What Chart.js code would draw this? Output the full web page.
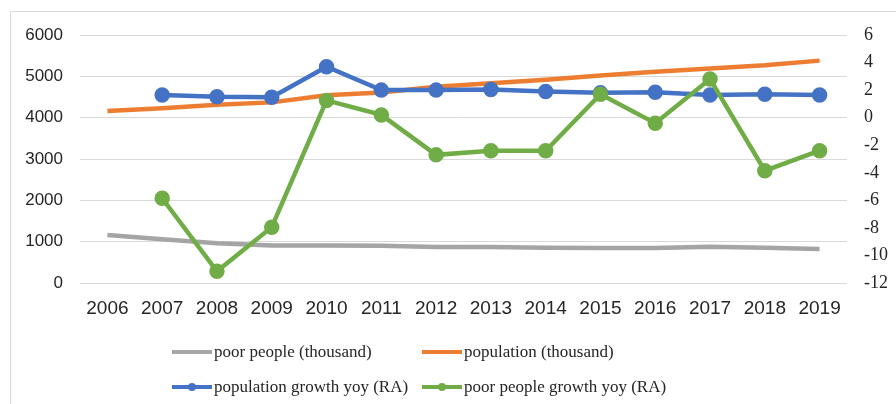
<!DOCTYPE html>
<html>
<head>
<meta charset="utf-8">
<script src="https://cdn.jsdelivr.net/npm/chart.js@4.4.1/dist/chart.umd.min.js"></script>
<style>
  html, body { margin: 0; padding: 0; background: #fff; }
  #wrap { position: relative; width: 896px; height: 404px; overflow: hidden; }
  #frame { position: absolute; left: 10px; top: 11px; width: 900px; height: 400px;
           border-left: 1px solid #d9d9d9; border-top: 1px solid #d9d9d9; }
  canvas { position: absolute; left: 0; top: 0; }
  .item { position: absolute; height: 24px; font-family: "Liberation Serif", serif;
          font-size: 17px; color: #262626; line-height: 24px; white-space: nowrap; }
  .sw { display: inline-block; position: relative; width: 40px; height: 24px;
        vertical-align: top; margin-right: 2px; }
  .sw i { position: absolute; left: 0; right: 0; top: 10px; height: 4px; }
  .sw b { position: absolute; left: 16px; top: 8px; width: 8px; height: 8px; border-radius: 50%; }
</style>
</head>
<body>
<div id="wrap">
  <div id="frame"></div>
  <canvas id="c" width="896" height="404"></canvas>
  <div class="item" style="left:172px; top:340px;">
    <span class="sw"><i style="background:#a5a5a5"></i></span>poor people (thousand)</div>
  <div class="item" style="left:422px; top:340px;">
    <span class="sw"><i style="background:#ed7d31"></i></span>population (thousand)</div>
  <div class="item" style="left:172px; top:375px;">
    <span class="sw"><i style="background:#4472c4"></i><b style="background:#4472c4"></b></span>population growth yoy (RA)</div>
  <div class="item" style="left:422px; top:375px;">
    <span class="sw"><i style="background:#70ad47"></i><b style="background:#70ad47"></b></span>poor people growth yoy (RA)</div>
</div>
<script>
// data
const years = ['2006', '2007', '2008', '2009', '2010', '2011', '2012',
               '2013', '2014', '2015', '2016', '2017', '2018', '2019'];
const poorPeople = [1160, 1060, 960, 910, 910, 900, 870, 870, 850, 845, 845, 880, 855, 825];
const population = [4160, 4230, 4310, 4370, 4540, 4610, 4750, 4830, 4920, 5020, 5110, 5190, 5270, 5380];
const popGrowth = [null, 1.65, 1.52, 1.48, 3.7, 2.0, 2.0, 2.05, 1.9, 1.8, 1.85, 1.65, 1.7, 1.65];
const poorGrowth = [null, -5.85, -11.15, -7.95, 1.25, 0.2, -2.7, -2.4, -2.4, 1.7, -0.4, 2.8, -3.85, -2.4];

const ctx = document.getElementById('c').getContext('2d');
new Chart(ctx, {
    type: 'line',
    data: {
        labels: years,
        datasets: [
            { label: 'poor people (thousand)', data: poorPeople, yAxisID: 'y',
              borderColor: '#a5a5a5', borderWidth: 4.5, pointRadius: 0, order: 4 },
            { label: 'population (thousand)', data: population, yAxisID: 'y',
              borderColor: '#ed7d31', borderWidth: 4.5, pointRadius: 0, order: 3 },
            { label: 'population growth yoy (RA)', data: popGrowth, yAxisID: 'y1',
              borderColor: '#4472c4', backgroundColor: '#4472c4', borderWidth: 4.5,
              pointRadius: 5.5, order: 2 },
            { label: 'poor people growth yoy (RA)', data: poorGrowth, yAxisID: 'y1',
              borderColor: '#70ad47', backgroundColor: '#70ad47', borderWidth: 4.5,
              pointRadius: 5.5, order: 1 },
        ],
    },
    options: {
        responsive: false,
        animation: false,
        layout: { padding: { top: 35, left: 0, right: 0, bottom: 0 } },
        plugins: { legend: { display: false }, tooltip: { enabled: false } },
        scales: {
            x: {
                offset: true,
                grid: { display: false, offset: true },
                border: { display: false },
                ticks: { color: '#262626', padding: 6, maxRotation: 0, autoSkip: false,
                         font: { family: 'Liberation Sans', size: 19 } },
                afterFit: (s) => { s.height = 121; },
            },
            y: {
                position: 'left',
                min: 0, max: 6000,
                ticks: { stepSize: 1000, color: '#262626', padding: 17,
                         font: { family: 'Liberation Sans', size: 17 },
                         callback: (v) => String(v) },
                grid: { color: '#d9d9d9', lineWidth: 1, drawTicks: false },
                border: { display: false },
                afterFit: (s) => { s.width = 80; },
            },
            y1: {
                position: 'right',
                min: -12, max: 6,
                ticks: { stepSize: 2, color: '#262626', padding: 17,
                         font: { family: 'Liberation Serif', size: 18 } },
                grid: { display: false, drawTicks: false },
                border: { display: false },
                afterFit: (s) => { s.width = 49; },
            },
        },
    },
});
</script>
</body>
</html>
